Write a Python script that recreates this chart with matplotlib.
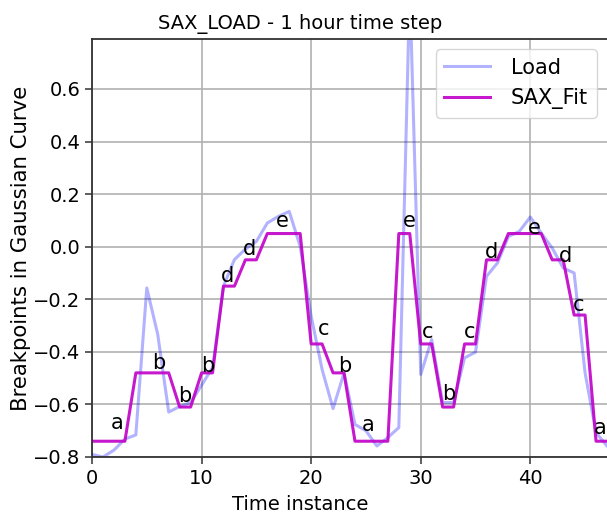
import numpy as np
import matplotlib
matplotlib.use("Agg")
import matplotlib.pyplot as plt

# Load series (normalised), one value per hour
time_idx = list(range(48))
load = [-0.79, -0.80, -0.774, -0.732, -0.716, -0.157, -0.334, -0.629,
        -0.608, -0.593, -0.527, -0.46, -0.15, -0.049, -0.009, 0.02,
        0.09, 0.115, 0.134, 0.001, -0.264, -0.467, -0.616, -0.48,
        -0.676, -0.70, -0.758, -0.726, -0.688, 0.99, -0.486, -0.353,
        -0.593, -0.593, -0.423, -0.401, -0.113, -0.062, 0.039, 0.058,
        0.113, 0.052, -0.005, -0.081, -0.10, -0.48, -0.707, -0.758]

# SAX reconstruction (2-hour segments)
sax_fit = [-0.74, -0.74, -0.74, -0.74, -0.48, -0.48, -0.48, -0.48,
           -0.61, -0.61, -0.48, -0.48, -0.15, -0.15, -0.05, -0.05,
           0.05, 0.05, 0.05, 0.05, -0.37, -0.37, -0.48, -0.48,
           -0.74, -0.74, -0.74, -0.74, 0.05, 0.05, -0.37, -0.37,
           -0.61, -0.61, -0.37, -0.37, -0.05, -0.05, 0.05, 0.05,
           0.05, 0.05, -0.05, -0.05, -0.26, -0.26, -0.74, -0.74]

# SAX symbols and where they are written
sym_text = ["a", "b", "b", "b", "d", "d", "e", "c", "b", "a",
            "e", "c", "b", "c", "d", "e", "d", "c", "a"]
sym_x = [2.28, 6.11, 8.46, 10.52, 12.38, 14.33, 17.4, 21.14, 23.1, 25.2,
         28.95, 30.6, 32.57, 34.43, 36.47, 40.33, 43.25, 44.37, 46.35]
sym_y = [-0.669, -0.441, -0.568, -0.454, -0.113, -0.009, 0.096, -0.312,
         -0.454, -0.679, 0.096, -0.325, -0.559, -0.325, -0.021, 0.071,
         -0.034, -0.22, -0.688]

W, H = 607, 515
fig = plt.figure(figsize=(W / 100, H / 100), dpi=100)
ax = fig.add_axes([92 / W, (H - 457) / H, 515 / W, 418 / H])

ax.plot(time_idx, load, color="blue", alpha=0.3, lw=2.2, label="Load")
ax.plot(time_idx, sax_fit, color="#c000c8", alpha=0.9, lw=2.2, label="SAX_Fit")
for s, x, y in zip(sym_text, sym_x, sym_y):
    ax.text(x, y, s, ha="center", va="center", fontsize=15)

ax.set_xlim(0, 47)
ax.set_ylim(-0.8, 0.79)
ax.set_xticks([0, 10, 20, 30, 40])
ax.set_yticks([-0.8, -0.6, -0.4, -0.2, 0.0, 0.2, 0.4, 0.6])
ax.tick_params(labelsize=14, length=5, width=1.1, color="#333333")
ax.grid(True, color="#b0b0b0", lw=1.2)
for side in ["left", "bottom", "top"]:
    ax.spines[side].set_color("#333333")
    ax.spines[side].set_linewidth(1.3)
ax.spines["right"].set_visible(False)

ax.set_title("SAX_LOAD - 1 hour time step", fontsize=14, x=(300 - 92) / 515, pad=7)
ax.set_xlabel("Time instance", fontsize=14)
ax.xaxis.set_label_coords((300 - 92) / 515, -0.09)
ax.set_ylabel("Breakpoints in Gaussian Curve", fontsize=15.3)
ax.yaxis.set_label_coords(-0.118, 0.5)
ax.legend(loc="upper right", fontsize=15, handlelength=2.2, handletextpad=1.0)

fig.savefig("out.png", dpi=100)
